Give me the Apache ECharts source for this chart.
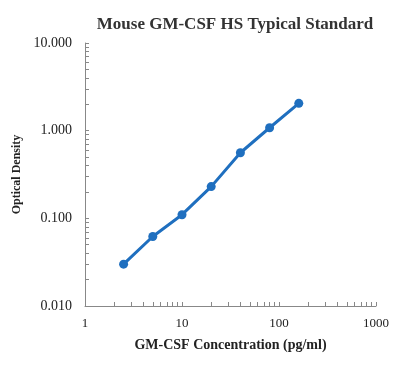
<!DOCTYPE html>
<html>
<head>
<meta charset="utf-8">
<script src="https://cdn.jsdelivr.net/npm/echarts@6/dist/echarts.min.js"></script>
<style>html,body{margin:0;padding:0;background:#fff}#c{width:403px;height:381px}</style>
</head>
<body>
<div id="c"></div>
<script>
var titleText = 'Mouse GM-CSF HS Typical Standard';
var xName = 'GM-CSF Concentration (pg/ml)';
var yName = 'Optical Density';
var concentrations = [2.5, 5, 10, 20, 40, 80, 160];
var odValues = [0.030, 0.062, 0.11, 0.23, 0.56, 1.08, 2.05];
var xTickValues = [1,2,3,4,5,6,7,8,9,10,20,30,40,50,60,70,80,90,100,200,300,400,500,600,700,800,900,1000];
var yTickValues = [0.01,0.02,0.03,0.04,0.05,0.06,0.07,0.08,0.09,0.1,0.2,0.3,0.4,0.5,0.6,0.7,0.8,0.9,1,2,3,4,5,6,7,8,9,10];
var xLabels = [1, 10, 100, 1000];
var yLabels = [0.01, 0.1, 1, 10];

var font = '"Liberation Serif", "Times New Roman", serif';
var chart = echarts.init(document.getElementById('c'), null, {renderer: 'canvas'});
chart.setOption({
  animation: false,
  backgroundColor: '#fff',
  title: {
    text: titleText,
    left: 230, top: 11, textAlign: 'center',
    textStyle: {fontFamily: font, fontWeight: 'bold', fontSize: 17, color: '#333'}
  },
  grid: {left: 85, right: 27, top: 43, bottom: 75, containLabel: false},
  xAxis: {
    type: 'log', logBase: 10, min: 1, max: 1000,
    name: xName, nameLocation: 'middle', nameGap: 32,
    nameTextStyle: {fontFamily: font, fontWeight: 'bold', fontSize: 14, color: '#222'},
    axisLine: {show: true, onZero: false, lineStyle: {color: '#888', width: 1}},
    axisTick: {show: true, inside: true, length: 4, customValues: xTickValues, lineStyle: {color: '#888'}},
    axisLabel: {customValues: xLabels, margin: 11, fontFamily: font, fontSize: 13, color: '#222', formatter: function(v){return String(Math.round(v));}},
    splitLine: {show: false}
  },
  yAxis: {
    type: 'log', logBase: 10, min: 0.01, max: 10,
    name: yName, nameLocation: 'middle', nameGap: 60,
    nameTextStyle: {fontFamily: font, fontWeight: 'bold', fontSize: 12, color: '#222'},
    axisLine: {show: true, onZero: false, lineStyle: {color: '#888', width: 1}},
    axisTick: {show: true, inside: true, length: 4, customValues: yTickValues, lineStyle: {color: '#888'}},
    axisLabel: {customValues: yLabels, margin: 13, fontFamily: font, fontSize: 14, color: '#222', formatter: function(v){return Number(v).toFixed(3);}},
    splitLine: {show: false}
  },
  series: [{
    type: 'line',
    data: concentrations.map(function(c, i){ return [c, odValues[i]]; }),
    symbol: 'circle', symbolSize: 9,
    lineStyle: {color: '#1f6fbf', width: 3},
    itemStyle: {color: '#1f6fbf'}
  }]
});
</script>
</body>
</html>
